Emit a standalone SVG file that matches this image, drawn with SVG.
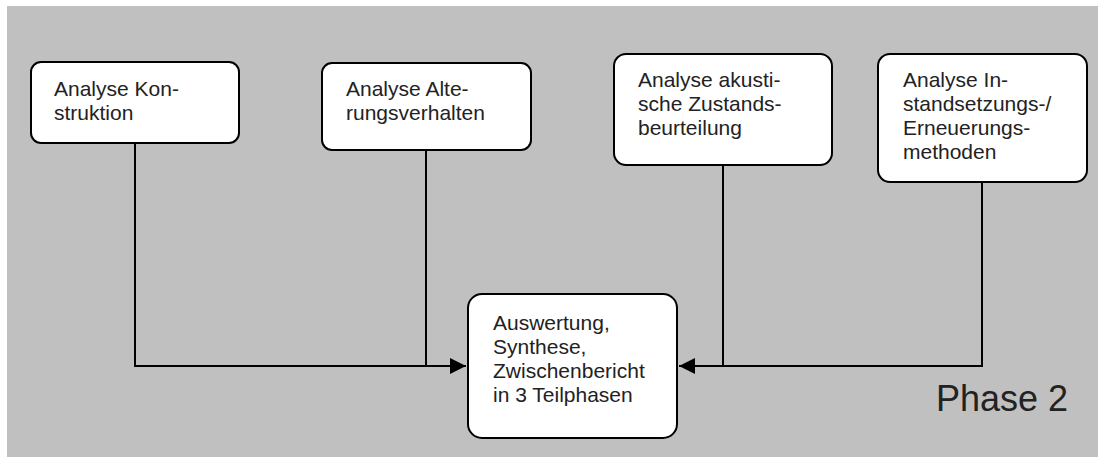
<svg xmlns="http://www.w3.org/2000/svg" width="1098" height="457" viewBox="0 0 1098 457">
<style>
.box{fill:#fff;stroke:#000;stroke-width:2}
.t{font-family:"Liberation Sans",Arial,sans-serif;font-size:21px;fill:#222}
.c{fill:none;stroke:#000;stroke-width:2}
</style>
<defs>
<marker id="ah" viewBox="0 0 16 16" refX="16" refY="8" markerWidth="16" markerHeight="16" markerUnits="userSpaceOnUse" orient="auto">
<path d="M0,0 L16,8 L0,16 Z" fill="#000"/>
</marker>
</defs>
<rect x="7" y="6" width="1091" height="451" fill="#c0c0c0"/>
<g id="connectors">
<path class="c" d="M135,143 V366 H466" marker-end="url(#ah)"/>
<path class="c" d="M426,150 V366"/>
<path class="c" d="M982,182 V366 H679" marker-end="url(#ah)"/>
<path class="c" d="M723,165 V366"/>
</g>
<g id="n1">
<rect class="box" x="31" y="62" width="208" height="81" rx="10"/>
<text class="t" x="54" y="96">Analyse Kon-</text>
<text class="t" x="54" y="120">struktion</text>
</g>
<g id="n2">
<rect class="box" x="322" y="63" width="209" height="87" rx="10"/>
<text class="t" x="346" y="96">Analyse Alte-</text>
<text class="t" x="346" y="120">rungsverhalten</text>
</g>
<g id="n3">
<rect class="box" x="614" y="54" width="218" height="111" rx="12"/>
<text class="t" x="638" y="87">Analyse akusti-</text>
<text class="t" x="638" y="111">sche Zustands-</text>
<text class="t" x="638" y="135">beurteilung</text>
</g>
<g id="n4">
<rect class="box" x="878" y="54" width="209" height="128" rx="12"/>
<text class="t" x="903" y="87">Analyse In-</text>
<text class="t" x="903" y="111">standsetzungs-/</text>
<text class="t" x="903" y="135">Erneuerungs-</text>
<text class="t" x="903" y="159">methoden</text>
</g>
<g id="n5">
<rect class="box" x="468" y="294" width="209" height="144" rx="14"/>
<text class="t" x="493" y="330">Auswertung,</text>
<text class="t" x="493" y="354">Synthese,</text>
<text class="t" x="493" y="378">Zwischenbericht</text>
<text class="t" x="493" y="402">in 3 Teilphasen</text>
</g>
<text x="936" y="411" font-family="Liberation Sans,Arial,sans-serif" font-size="36" fill="#222">Phase 2</text>
</svg>
